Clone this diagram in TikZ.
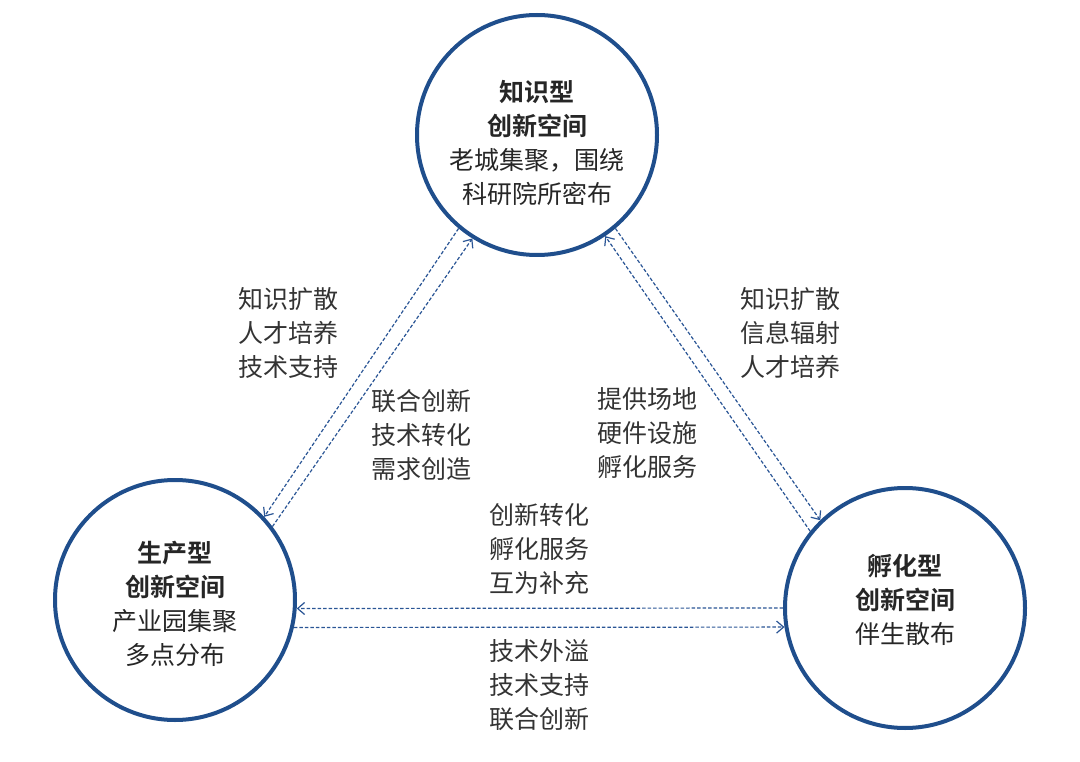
\documentclass[tikz,border=0pt]{standalone}
\usepackage{fontspec}
\setmainfont{Noto Sans CJK SC}[BoldFont=Noto Sans CJK SC Bold]
\usetikzlibrary{arrows.meta}
\definecolor{ringblue}{HTML}{1F4E8C}
\definecolor{linkblue}{HTML}{2A5595}
\tikzset{
  space/.style={circle, draw=ringblue, line width=4pt, minimum size=240pt, inner sep=0pt},
  link/.style={linkblue, dashed, line width=1.2pt, dash pattern=on 3.5pt off 2pt, -{Straight Barb[length=7pt,width=12pt]}},
  lbl/.style={align=left, anchor=north west, font=\fontsize{25}{34}\selectfont, text=black!80},
  ttl/.style={align=center, font=\fontsize{25}{34}\selectfont, text=black!85}
}
\begin{document}
\begin{tikzpicture}[x=1pt,y=-1pt]
\useasboundingbox (0,0) rectangle (1080,762);
%define spaces
\node[space] (know) at (537,135) {};
\node[space] (prod) at (175,600) {};
\node[space] (incu) at (905,608) {};

%texts inside
\node[ttl] at (537,143) {\textbf{知识型}\\\textbf{创新空间}\\老城集聚，围绕\\科研院所密布};
\node[ttl] at (175,604) {\textbf{生产型}\\\textbf{创新空间}\\产业园集聚\\多点分布};
\node[ttl] at (905,600) {\textbf{孵化型}\\\textbf{创新空间}\\伴生散布};

%draw links
\draw[link] (know.230) -- (prod.43);
\draw[link] (prod.37) -- (know.238);
\draw[link] (know.310) -- (incu.134);
\draw[link] (incu.141) -- (know.304);
\draw[link] (incu.180) -- (prod.-4);
\draw[link] (prod.-13) -- (incu.189);

%draw labels
\node[lbl] (l1) at (235,284) {知识扩散\\人才培养\\技术支持};
\node[lbl] (l2) at (368,386) {联合创新\\技术转化\\需求创造};
\node[lbl] (l3) at (737,284) {知识扩散\\信息辐射\\人才培养};
\node[lbl] (l4) at (594,384) {提供场地\\硬件设施\\孵化服务};
\node[lbl] (l5) at (486,500) {创新转化\\孵化服务\\互为补充};
\node[lbl] (l6) at (486,636) {技术外溢\\技术支持\\联合创新};
\end{tikzpicture}
\end{document}
